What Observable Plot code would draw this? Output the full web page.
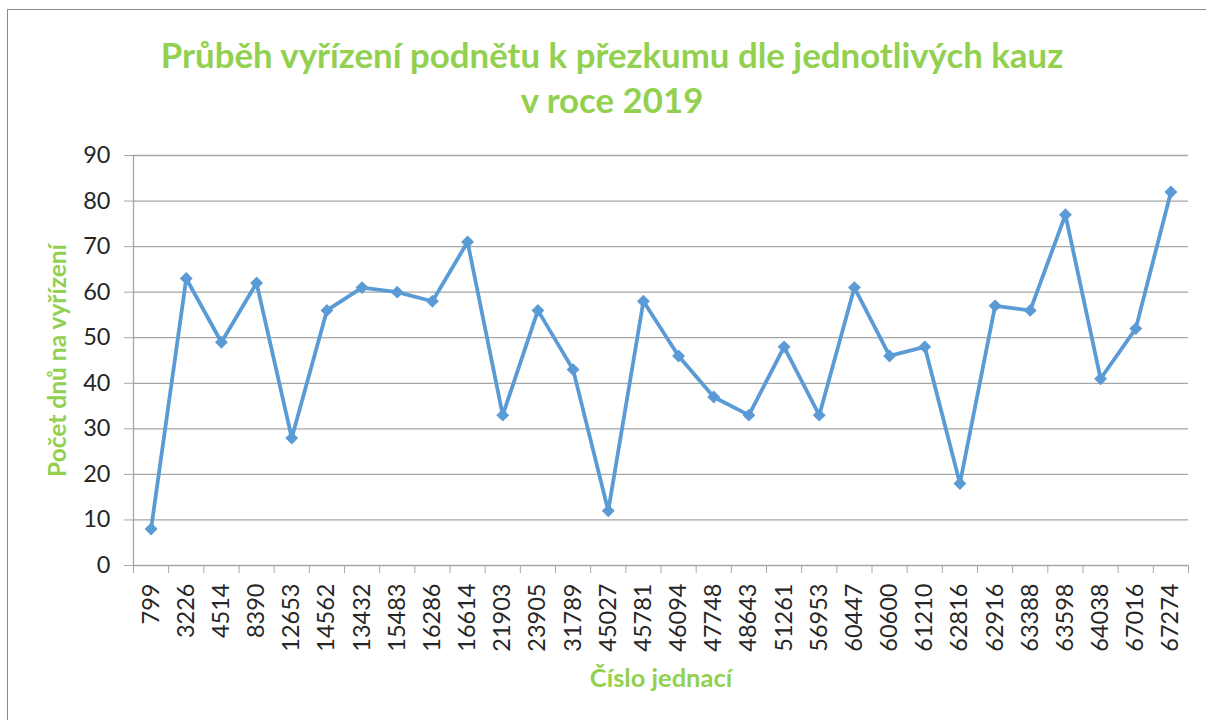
<!DOCTYPE html>
<html>
<head>
<meta charset="utf-8">
<script src="https://cdn.jsdelivr.net/npm/d3@7"></script>
<script src="https://cdn.jsdelivr.net/npm/@observablehq/plot@0.6"></script>
<style>
  html, body { margin: 0; padding: 0; background: #fff; overflow: hidden; }
  #page { position: relative; width: 1206px; height: 720px; overflow: hidden; }
  #frame { position: absolute; left: 7px; top: 9px; width: 1260px; height: 800px; border: 1px solid #8a8a8a; }
  #title { position: absolute; left: 0; top: 32px; width: 1224px; text-align: center;
    font-family: Lato, "Open Sans", sans-serif; font-weight: 700; font-size: 34.8px; line-height: 45px; color: #92d050; }
  #chart { position: absolute; left: 0; top: 130px; }
</style>
</head>
<body>
<div id="page">
  <div id="frame"></div>
  <div id="title">Průběh vyřízení podnětu k přezkumu dle jednotlivých kauz<br>v roce 2019</div>
  <div id="chart"></div>
</div>
<script>
const cases = ["799","3226","4514","8390","12653","14562","13432","15483","16286","16614",
  "21903","23905","31789","45027","45781","46094","47748","48643","51261","56953",
  "60447","60600","61210","62816","62916","63388","63598","64038","67016","67274"];
const days = [8,63,49,62,28,56,61,60,58,71,
  33,56,43,12,58,46,37,33,48,33,
  61,46,48,18,57,56,77,41,52,82];
const yTicks = [0,10,20,30,40,50,60,70,80,90];
const xLabel = "Číslo jednací";
const yLabel = "Počet dnů na vyřízení";

const data = cases.map((c, i) => ({case: c, idx: i + 0.5, days: days[i]}));
const blue = "#5b9bd5";
const gridColor = "#a6a6a6";
const textColor = "#262626";

const chart = Plot.plot({
  width: 1206,
  height: 590,
  marginTop: 25,
  marginBottom: 155,
  marginLeft: 133,
  marginRight: 18,
  style: {fontFamily: "Lato, 'Open Sans', sans-serif", fontSize: "23.5px", color: textColor, background: "transparent"},
  x: {domain: [0, cases.length], axis: null},
  y: {domain: [0, 90], axis: null},
  marks: [
    Plot.gridY(yTicks, {stroke: gridColor, strokeOpacity: 1, strokeWidth: 1.3}),
    Plot.ruleX([0], {stroke: gridColor, strokeWidth: 1.3}),
    Plot.axisY({ticks: yTicks, tickSize: 9, tickPadding: 14, stroke: gridColor, strokeOpacity: 1, label: null, fill: textColor}),
    Plot.axisX({ticks: d3.range(cases.length + 1), tickSize: 8, tickFormat: () => "", stroke: gridColor, strokeOpacity: 1, label: null}),
    Plot.axisX({ticks: data.map(d => d.idx), tickSize: 0, tickPadding: 18, tickRotate: -90,
      tickFormat: v => cases[Math.floor(v)], label: null, fill: textColor}),
    Plot.text([xLabel], {frameAnchor: "bottom", dy: 121, fontWeight: "bold", fontSize: 25.5, fill: "#92d050"}),
    Plot.text([yLabel], {frameAnchor: "left", textAnchor: "middle", dx: -75, rotate: -90, fontWeight: "bold", fontSize: 24.5, fill: "#92d050"}),
    Plot.line(data, {x: "idx", y: "days", stroke: blue, strokeWidth: 3.8}),
    Plot.dot(data, {x: "idx", y: "days", symbol: "diamond2", r: 5.8, fill: blue, stroke: "none"})
  ]
});
document.getElementById("chart").append(chart);
</script>
</body>
</html>
